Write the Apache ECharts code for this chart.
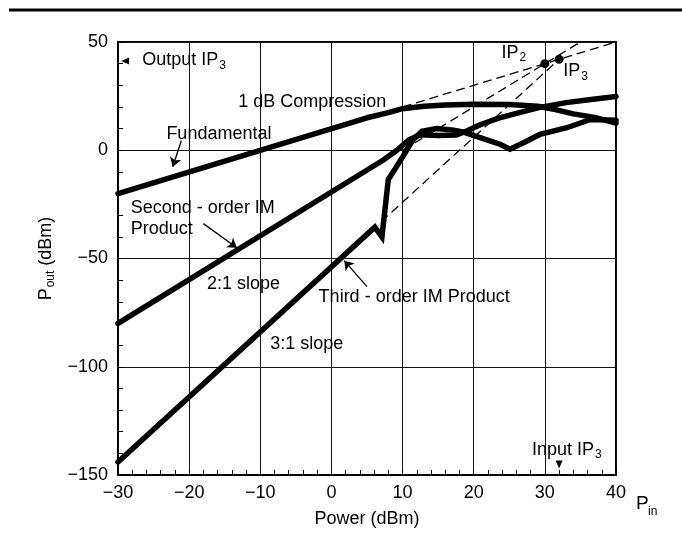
<!DOCTYPE html>
<html>
<head>
<meta charset="utf-8">
<script src="https://cdn.jsdelivr.net/npm/echarts@6/dist/echarts.min.js"></script>
<style>html,body{margin:0;padding:0;background:#fff}#c{width:682px;height:533px}</style>
</head>
<body>
<div id="c"></div>
<script>
// ---- data ----
const xTicks = [-30, -20, -10, 0, 10, 20, 30, 40];
const yTicks = [-150, -100, -50, 0, 50];

const fundX = [-30, 5, 8, 10, 13, 16, 20, 25, 29, 31.5, 34, 37, 40];
const fundY = [-20, 15, 17.4, 19.2, 20.3, 20.9, 21.2, 21.1, 20.3, 18.8, 16.8, 15.2, 12.5];

const secondX = [-30, 7.3, 9, 11, 12.5, 15, 17.5, 19, 21, 23.5, 26, 29.3, 33, 36.5, 40];
const secondY = [-80, -4.5, -0.5, 5, 7.2, 6.8, 7, 8.9, 11.9, 14.8, 17, 19.8, 22, 23.4, 24.8];

const thirdX = [-30, 6.1, 7.1, 8.0, 8.3, 10.1, 11.5, 12.7, 14.8, 17.2, 18.6, 20.9, 23.7, 25.1, 27, 29.3, 33.1, 36.4, 40];
const thirdY = [-144, -35.5, -40, -13.3, -12, -2.6, 5, 8.8, 10, 9.3, 8.4, 5.8, 2.8, 0.5, 3.5, 7.3, 10.4, 14.2, 13.8];

const fundExtX = [10, 40];   const fundExtY = [20, 50];
const secondExtX = [10, 35]; const secondExtY = [0, 50];
const thirdExtX = [7, 32];   const thirdExtY = [-33, 42];

const ipX = [30, 32];
const ipY = [40, 42];

const annoText = ['{n|Output IP}{s|3}', '1 dB Compression', 'Fundamental', 'Second - order IM', 'Product',
                  '2:1 slope', '3:1 slope', 'Third - order IM Product', '{n|IP}{s|2}', '{n|IP}{s|3}', '{n|Input IP}{s|3}'];
const annoX = [-26.6, -13.1, -23.2, -28.2, -28.2, -17.5, -8.6, -1.8, 23.9, 32.6, 28.2];
const annoY = [41.5, 22.2, 7.3, -26.7, -36.2, -61.9, -89.3, -67.9, 45, 36.5, -138.5];

const arrowFrom = [[-21.1, 4.4], [-18.0, -33.9], [5.0, -63.0]];
const arrowTo   = [[-22.3, -7.6], [-13.3, -45.0], [1.8, -51.0]];

const markerX = [-29.0, 32];
const markerY = [41.2, -145.2];
const markerRot = [90, 180];

// ---- chart ----
const FF = '"Liberation Sans", Arial, Helvetica, sans-serif';
const zip = (a, b) => a.map((v, i) => [v, b[i]]);
const minus = v => String(v).replace('-', '\u2212');
const rich = {
  n: {fontSize: 18, fontFamily: FF, color: '#000', lineHeight: 18, verticalAlign: 'top'},
  s: {fontSize: 12, fontFamily: FF, color: '#000', lineHeight: 12, verticalAlign: 'top', padding: [8, 0, 0, 1]}
};

const chart = echarts.init(document.getElementById('c'), null, {renderer: 'canvas'});

const thick = {color: '#000', width: 5.5, join: 'round', cap: 'round'};
const dashed = {color: '#000', width: 1.3, type: [9, 5]};

const option = {
  animation: false,
  backgroundColor: '#fff',
  grid: {left: 118, right: 66, top: 42, bottom: 55, show: true, borderColor: '#000', borderWidth: 2, backgroundColor: 'transparent'},
  xAxis: {
    type: 'value', min: xTicks[0], max: xTicks[xTicks.length - 1], interval: 10,
    axisLine: {onZero: false, lineStyle: {color: '#000', width: 2}},
    axisTick: {inside: true, length: 5, lineStyle: {color: '#000', width: 1}},
    minorTick: {show: true, splitNumber: 5, length: 5, lineStyle: {color: '#000', width: 1}},
    splitLine: {show: true, lineStyle: {color: '#111', width: 1}},
    axisLabel: {fontSize: 18, fontFamily: FF, color: '#000', margin: 9, formatter: minus},
    name: 'Power (dBm)', nameLocation: 'middle', nameGap: 35,
    nameTextStyle: {fontSize: 18, fontFamily: FF, color: '#000'}
  },
  yAxis: {
    type: 'value', min: yTicks[0], max: yTicks[yTicks.length - 1], interval: 50,
    axisLine: {onZero: false, lineStyle: {color: '#000', width: 2}},
    axisTick: {inside: true, length: 5, lineStyle: {color: '#000', width: 1}},
    minorTick: {show: true, splitNumber: 5, length: 5, lineStyle: {color: '#000', width: 1}},
    splitLine: {show: true, lineStyle: {color: '#111', width: 1}},
    axisLabel: {fontSize: 18, fontFamily: FF, color: '#000', margin: 10, formatter: minus},
    name: '{n|P}{s|out}{n| (dBm)}', nameLocation: 'middle', nameGap: 59,
    nameTextStyle: {fontSize: 18, fontFamily: FF, color: '#000', rich: rich}
  },
  series: [
    {type: 'line', name: 'Fundamental', data: zip(fundX, fundY), showSymbol: false, lineStyle: thick, z: 5},
    {type: 'line', name: 'Second-order IM', data: zip(secondX, secondY), showSymbol: false, lineStyle: thick, z: 5},
    {type: 'line', name: 'Third-order IM', data: zip(thirdX, thirdY), showSymbol: false, lineStyle: Object.assign({}, thick, {join: 'miter'}), z: 5},
    {type: 'line', data: zip(fundExtX, fundExtY), showSymbol: false, lineStyle: dashed, z: 4},
    {type: 'line', data: zip(secondExtX, secondExtY), showSymbol: false, lineStyle: dashed, z: 4},
    {type: 'line', data: zip(thirdExtX, thirdExtY), showSymbol: false, lineStyle: dashed, z: 4},
    {type: 'scatter', data: zip(ipX, ipY), symbol: 'circle', symbolSize: 9, itemStyle: {color: '#000', opacity: 1}, z: 6},
    {type: 'scatter', clip: false, data: markerX.map((x, i) => ({value: [x, markerY[i]], symbolRotate: markerRot[i]})),
      symbol: 'triangle', symbolSize: [7, 8], itemStyle: {color: '#000', opacity: 1}, z: 6},
    {type: 'scatter', clip: false, symbolSize: 0, z: 7, itemStyle: {opacity: 1},
      data: annoText.map((t, i) => ({value: [annoX[i], annoY[i]], label: {formatter: t}})),
      label: {show: true, position: 'right', distance: 0, fontSize: 18, fontFamily: FF, color: '#000', opacity: 1, rich: rich}},
    {type: 'lines', coordinateSystem: 'cartesian2d', polyline: false, z: 6,
      symbol: ['none', 'arrow'], symbolSize: 9,
      lineStyle: {color: '#000', width: 1.3, opacity: 1},
      data: arrowFrom.map((f, i) => ({coords: [f, arrowTo[i]]}))}
  ],
  graphic: [
    {type: 'line', shape: {x1: 9, y1: 10, x2: 682, y2: 10}, style: {stroke: '#000', lineWidth: 3}},
    {type: 'text', left: 636, top: 494, style: {text: 'P', font: '19px ' + FF, fill: '#000'}},
    {type: 'text', left: 648, top: 506, style: {text: 'in', font: '12px ' + FF, fill: '#000'}}
  ]
};
chart.setOption(option);
</script>
</body>
</html>
